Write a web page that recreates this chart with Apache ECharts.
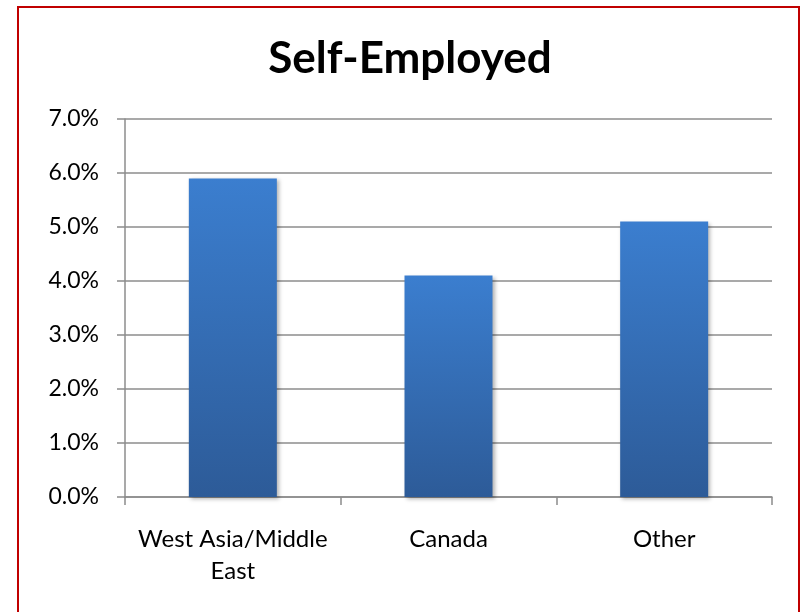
<!DOCTYPE html>
<html>
<head>
<meta charset="utf-8">
<script src="https://cdn.jsdelivr.net/npm/echarts@6/dist/echarts.min.js"></script>
<style>
html,body{margin:0;padding:0;background:#fff;}
#frame{position:absolute;left:17px;top:6px;width:783px;height:620px;border:2px solid #c00000;box-sizing:border-box;}
#chart{position:absolute;left:0;top:0;width:806px;height:612px;}
</style>
</head>
<body>
<div id="frame"></div>
<div id="chart"></div>
<script>
const categories = ['West Asia/Middle\nEast', 'Canada', 'Other'];
const values = [5.9, 4.1, 5.1];
const yTicks = { min: 0, max: 7, interval: 1 };

const chart = echarts.init(document.getElementById('chart'), null, {renderer: 'canvas'});
chart.setOption({
  animation: false,
  backgroundColor: 'transparent',
  title: {
    text: 'Self-Employed',
    left: 405, top: 32, textAlign: 'center',
    textStyle: { fontFamily: 'Lato', fontWeight: 'bold', fontSize: 44, color: '#000' }
  },
  grid: { left: 125, right: 34, top: 119, bottom: 115 },
  xAxis: {
    type: 'category',
    data: categories,
    axisLine: { lineStyle: { color: '#8c8c8c', width: 1.5 } },
    axisTick: { show: true, interval: 0, length: 8, inside: false, lineStyle: { color: '#8c8c8c', width: 1.5 } },
    axisLabel: { interval: 0, hideOverlap: false, margin: 26, fontFamily: 'Lato', fontSize: 24, color: '#000', lineHeight: 32 }
  },
  yAxis: {
    type: 'value',
    min: yTicks.min, max: yTicks.max, interval: yTicks.interval,
    axisLine: { show: true, lineStyle: { color: '#8c8c8c', width: 1.5 } },
    axisTick: { show: true, length: 8, lineStyle: { color: '#8c8c8c', width: 1.5 } },
    splitLine: { show: true, lineStyle: { color: '#8c8c8c', width: 1.5 } },
    axisLabel: { margin: 26, fontFamily: 'Lato', fontSize: 23, color: '#000', formatter: v => v.toFixed(1) + '%' }
  },
  series: [{
    type: 'bar',
    data: values,
    barWidth: 88,
    itemStyle: {
      color: new echarts.graphic.LinearGradient(0, 0, 0, 1, [
        { offset: 0, color: '#3b7ecf' },
        { offset: 1, color: '#2d5b98' }
      ]),
      shadowBlur: 4, shadowOffsetX: 2, shadowOffsetY: 2, shadowColor: 'rgba(0,0,0,0.3)'
    }
  }]
});
</script>
</body>
</html>
